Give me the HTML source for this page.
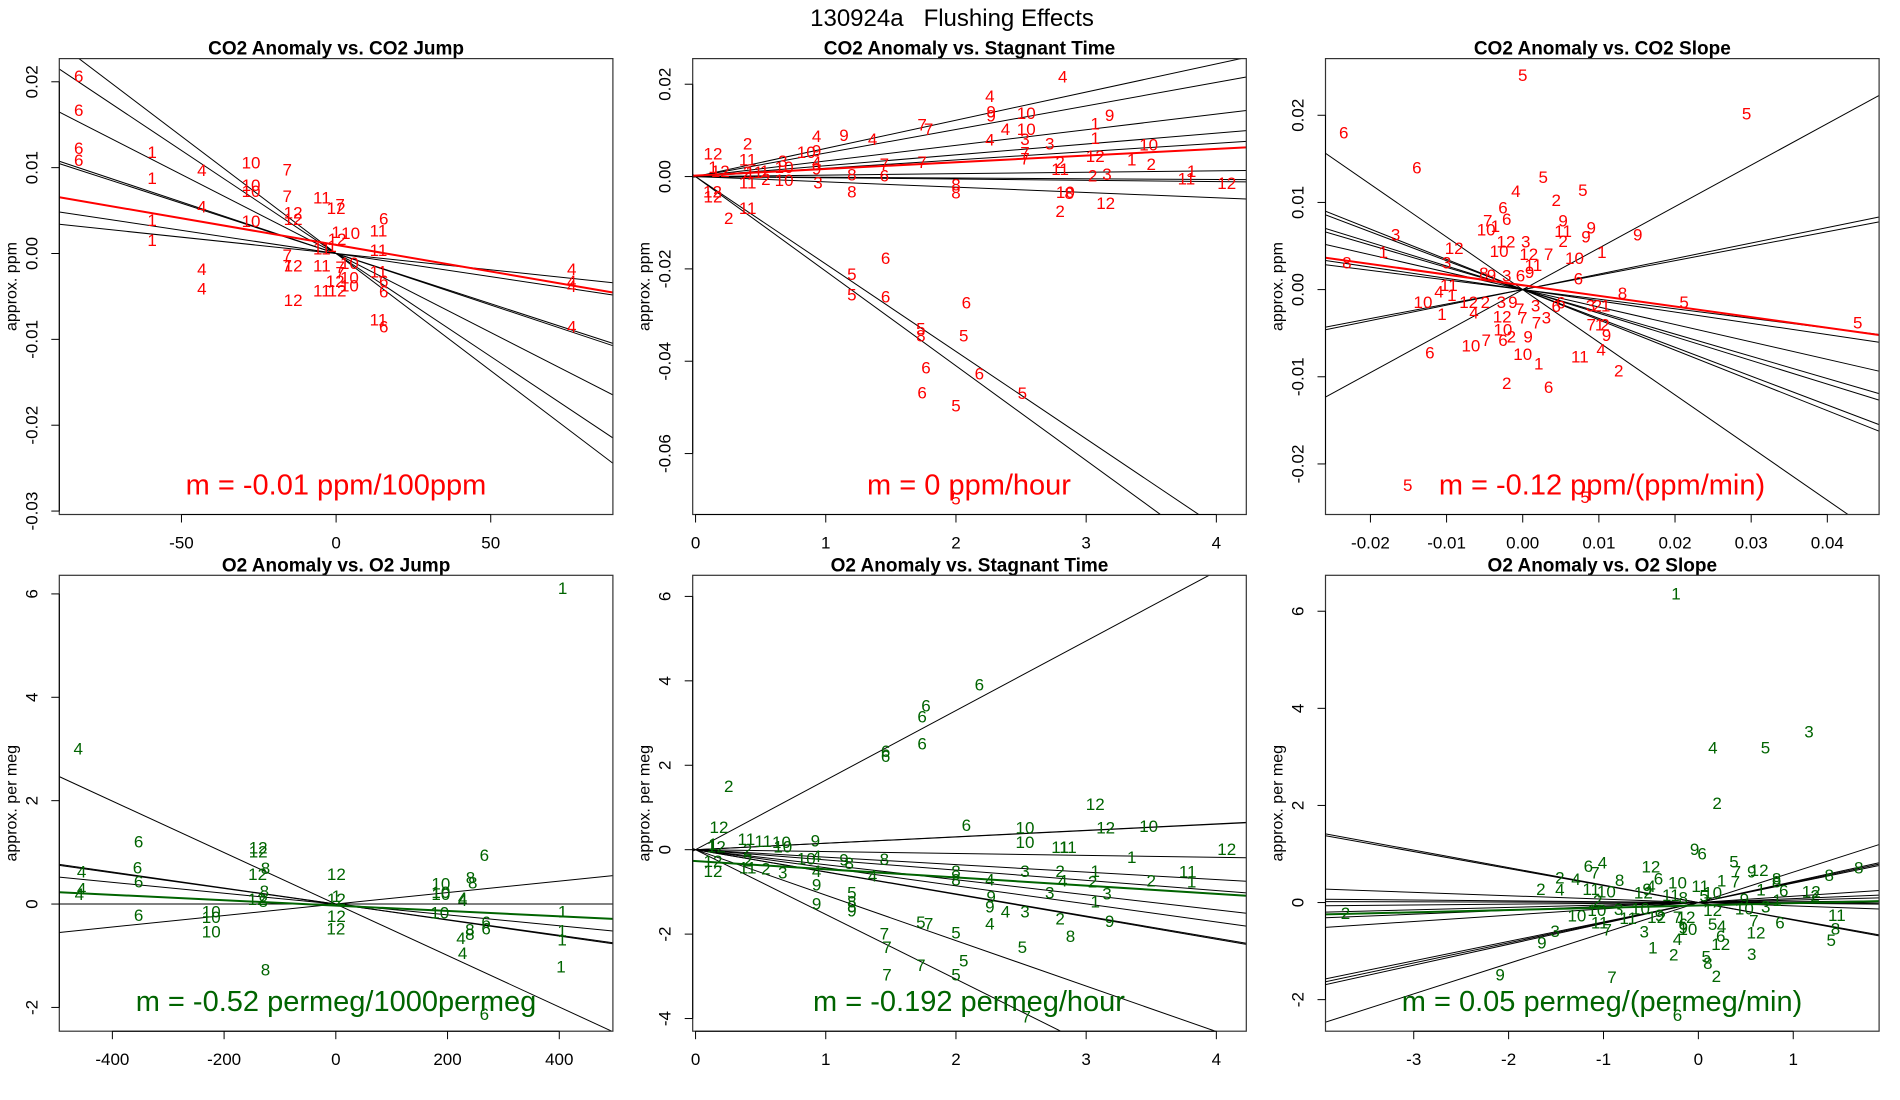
<!DOCTYPE html>
<html><head><meta charset="utf-8">
<style>
html,body{margin:0;padding:0;background:#fff;}
svg{display:block;font-family:"Liberation Sans",Arial,sans-serif;}
</style></head>
<body>
<svg id="chart" width="1900" height="1100" viewBox="0 0 1900 1100" xmlns="http://www.w3.org/2000/svg">
<text x="952" y="26" text-anchor="middle" font-size="24" fill="#000">130924a&#160;&#160;&#160;Flushing Effects</text>
</svg>
<script>
// ---- Panel 1: CO2 anomaly vs CO2 jump ----
const p1X=[-83.2,-83.2,-83.2,-83.2,-59.5,-59.5,-59.5,-59.5,-43.4,-43.4,-43.4,-43.4,-27.5,-27.5,-27.5,-27.5,-15.8,-15.8,-15.8,-15.8,-13.9,-13.9,-13.9,-13.9,-4.6,-4.6,-4.6,-4.6,1.3,0,0,0.3,4.7,-1.3,1.3,4.3,1.3,-0.3,4.3,0.3,4.3,13.7,15.4,13.7,13.7,15.4,15.4,13.7,15.4,76.2,76.2,76.2,76.2];
const p1Y=[0.0207,0.0167,0.0123,0.0109,0.0118,0.0088,0.0039,0.0016,0.0097,0.0055,-0.0018,-0.0041,0.0106,0.0080,0.0073,0.0038,0.0098,0.0067,-0.0002,-0.0014,0.0048,0.0040,-0.0014,-0.0054,0.0065,0.0006,-0.0014,-0.0043,0.0057,0.0053,0.0025,0.0017,0.0024,0.0009,-0.0016,-0.0011,-0.0022,-0.0032,-0.0028,-0.0043,-0.0037,0.0027,0.0041,0.0004,-0.0021,-0.0032,-0.0044,-0.0077,-0.0085,-0.0018,-0.0032,-0.0038,-0.0085];
const p1Lab=["6","6","6","6","1","1","1","1","4","4","4","4","10","10","10","10","7","7","7","7","12","12","12","12","11","11","11","11","7","12","1","12","10","1","7","10","7","12","10","12","10","11","6","11","11","6","6","11","6","4","4","4","4"];
const p1Slopes=[-0.000038,-0.000054,-0.000117,-0.00012,-0.000184,-0.00024,-0.000273];
const p1Fit=[-0.000062,0.0010];
// ---- Panel 2: CO2 anomaly vs stagnant time ----
const p2X=[0.134,0.134,0.19,0.13,0.134,0.255,0.40,0.40,0.40,0.40,0.40,0.53,0.54,0.45,0.67,0.68,0.68,0.85,0.93,0.93,0.93,0.93,0.94,1.14,1.36,1.20,1.20,1.45,1.45,1.74,1.79,1.74,2.0,2.0,2.26,2.27,2.27,2.38,2.26,2.54,2.54,2.53,2.53,2.53,2.72,2.82,2.80,2.80,2.80,2.84,2.87,3.07,3.18,3.07,3.07,3.05,3.16,3.15,3.35,3.48,3.50,3.81,3.77,4.08,1.20,1.20,1.46,1.46,1.73,1.73,2.08,2.06,1.77,2.18,1.74,2.00,2.51,2.00];
const p2Y=[0.0050,0.0021,0.0012,-0.0032,-0.0043,-0.0090,0.0072,0.0037,-0.0013,-0.0068,0.0010,0.0012,-0.0005,0.0010,0.0034,0.0021,-0.0007,0.0053,0.0056,0.0088,0.0031,0.0017,-0.0013,0.0090,0.0081,0.0004,-0.0032,0.0027,0.0002,0.0113,0.0103,0.0031,-0.0017,-0.0034,0.0175,0.0141,0.0132,0.0103,0.0080,0.0138,0.0103,0.0081,0.0052,0.0039,0.0072,0.0217,0.0031,0.0016,-0.0075,-0.0033,-0.0036,0.0115,0.0133,0.0084,0.0044,0.0002,0.0005,-0.0057,0.0037,0.0069,0.0027,0.0012,-0.0004,-0.0014,-0.0211,-0.0256,-0.0176,-0.0260,-0.0329,-0.0344,-0.0273,-0.0344,-0.0414,-0.0427,-0.0468,-0.0496,-0.0469,-0.0697];
const p2Lab=["12","1","12","12","12","2","2","11","11","11","2","1","2","11","3","10","10","10","9","4","4","9","3","9","4","8","8","7","6","7","7","7","8","8","4","9","9","4","4","10","10","3","7","7","3","4","2","11","2","10","8","1","9","1","12","2","3","12","1","10","2","1","11","12","5","5","6","6","5","8","6","5","6","6","6","5","5","5"];
const p2Slopes=[0.0061,0.0051,0.00338,0.00235,0.0018,0.00031,-0.00016,-0.00027,-0.00115,-0.0205,-0.01894];
const p2Fit=[0.00145,0.0002];
// ---- Panel 3: CO2 anomaly vs CO2 slope ----
const p3X=[0,-0.0235,0.0294,-0.0139,0.0027,-0.0009,0.0079,0.0044,-0.0026,-0.0021,-0.0046,-0.0048,-0.0036,0.0053,0.009,0.0053,0.0083,0.0053,0.0151,-0.0167,-0.0183,-0.009,-0.01,-0.0231,-0.0022,-0.0031,0.0004,0.0034,0.0068,0.0104,0.0008,0.0014,-0.0051,-0.0041,-0.0021,-0.0003,0.0009,0.0073,0.0131,0.0212,0.044,-0.011,-0.0097,-0.0131,-0.0093,-0.0106,-0.0071,-0.0049,-0.0028,-0.0013,-0.0004,-0.0064,-0.0027,0,0.0018,0.0017,0.0031,0.0044,0.005,0.0089,0.0098,0.0109,0.009,0.0101,0.0108,0.011,-0.0026,-0.0026,-0.0015,-0.0068,-0.0048,0.0007,-0.0122,0,0.0021,0.0075,0.0103,0.0126,-0.0021,0.0034,-0.0151,0.0082];
const p3Y=[0.0246,0.0180,0.0202,0.0140,0.0129,0.0113,0.0114,0.0103,0.0094,0.0081,0.0079,0.0069,0.0073,0.0079,0.0071,0.0067,0.0061,0.0056,0.0063,0.0063,0.0043,0.0048,0.0031,0.0031,0.0055,0.0044,0.0055,0.0041,0.0036,0.0043,0.0041,0.0028,0.0019,0.0017,0.0016,0.0016,0.0020,0.0013,-0.0004,-0.0014,-0.0038,-0.0002,0.0005,-0.0014,-0.0006,-0.0028,-0.0014,-0.0014,-0.0014,-0.0014,-0.0022,-0.0026,-0.0031,-0.0032,-0.0038,-0.0018,-0.0032,-0.0019,-0.0015,-0.0018,-0.0018,-0.0018,-0.0040,-0.0040,-0.0040,-0.0052,-0.0046,-0.0058,-0.0054,-0.0064,-0.0058,-0.0054,-0.0072,-0.0074,-0.0085,-0.0077,-0.0069,-0.0093,-0.0107,-0.0112,-0.0224,-0.0238];
const p3Lab=["5","6","5","6","5","4","5","2","6","6","7","10","1","9","9","11","9","2","9","3","1","12","3","8","12","10","3","7","10","1","12","11","8","9","3","6","9","6","8","5","5","4","11","10","1","1","12","2","3","9","7","4","12","7","7","3","3","6","6","3","2","1","7","1","2","9","10","6","2","10","7","9","6","10","1","11","4","2","2","6","5","5"];
const p3Slopes=[-0.604,-0.347,-0.331,-0.271,-0.255,-0.20,-0.129,-0.11,0.476,0.178,0.166];
const p3Fit=[-0.122,0.0005];
// ---- Panel 4: O2 anomaly vs O2 jump ----
const p4X=[406,-461,-353,-355,-353,-353,-455,-455,-459,-139,-139,-140,-126,-128,-141,-130,-223,-223,-223,1,1,1,1,0,-126,188,188,188,227,227,186,241,245,266,269,269,240,240,224,227,406,405,405,403,266];
const p4Y=[6.11,3.01,1.21,0.71,0.44,-0.21,0.63,0.30,0.19,1.09,1.02,0.58,0.70,0.25,0.10,0.06,-0.14,-0.25,-0.53,0.58,0.16,0.10,-0.23,-0.47,-1.27,0.40,0.23,0.19,0.12,0.08,-0.16,0.51,0.42,0.95,-0.35,-0.47,-0.49,-0.58,-0.66,-0.95,-0.14,-0.51,-0.69,-1.21,-2.13];
const p4Lab=["1","4","6","6","6","6","4","4","4","12","12","12","8","8","12","8","10","10","10","12","1","12","12","12","8","10","10","10","4","4","10","8","8","6","6","6","8","8","4","4","1","1","1","1","6"];
const p4Slopes=[-0.00498,-0.00151,-0.00155,-0.00105,0,0.00111];
const p4Fit=[-0.00052,-0.03];
// ---- Panel 5: O2 anomaly vs stagnant time ----
const p5X=[2.18,1.77,1.74,1.46,1.46,1.74,0.255,0.18,0.134,0.16,0.134,0.134,0.39,0.52,0.40,0.40,0.40,0.54,0.67,0.66,0.67,0.92,0.85,0.93,0.93,1.14,1.18,0.93,0.93,1.2,1.2,1.2,1.2,1.36,1.45,2.0,2.0,2.08,1.45,1.47,1.73,1.47,1.73,1.79,2.0,2.06,2.0,2.26,2.27,2.26,2.38,2.26,2.53,2.53,2.53,2.53,2.51,2.54,2.80,2.86,2.80,2.82,2.72,2.80,2.88,3.07,3.15,3.07,3.05,3.07,3.16,3.18,3.48,3.35,3.50,3.78,3.81,4.08];
const p5Y=[3.91,3.42,3.15,2.34,2.22,2.51,1.51,0.54,0.14,0.07,-0.27,-0.50,0.25,0.20,0,-0.26,-0.42,-0.44,-0.54,0.18,0.07,0.22,-0.21,-0.15,-0.50,-0.23,-0.32,-0.83,-1.27,-1.02,-1.23,-1.33,-1.44,-0.61,-0.22,-0.50,-0.71,0.58,-1.98,-2.31,-2.73,-2.96,-1.71,-1.75,-1.96,-2.63,-2.96,-0.71,-1.11,-1.35,-1.46,-1.75,0.53,0.18,-0.50,-1.46,-2.31,-3.95,0.06,0.06,-0.50,-0.73,-1.02,-1.63,-2.04,1.08,0.52,-0.50,-0.75,-1.23,-1.04,-1.69,0.56,-0.17,-0.73,-0.52,-0.75,0.02];
const p5Lab=["6","6","6","6","6","6","2","12","1","12","12","12","11","11","2","2","11","2","3","10","10","9","10","4","4","9","8","9","9","5","8","8","9","4","8","8","8","6","7","7","7","7","5","7","5","5","5","4","9","9","4","4","10","10","3","3","5","7","11","11","2","4","3","2","8","12","12","1","2","1","3","9","10","1","2","11","1","12"];
const p5Slopes=[1.648,0.151,0.153,-0.045,-0.177,-0.242,-0.356,-0.428,-0.524,-0.530,-1.077,-1.533];
const p5Fit=[-0.194,-0.27];
// ---- Panel 6: O2 anomaly vs O2 slope ----
const p6X=[-0.236,1.166,0.153,0.707,0.197,-0.04,0.04,0.376,0.40,0.563,0.64,0.825,0.825,1.38,1.69,-1.16,-1.09,-1.01,-1.46,-1.29,-0.83,-0.50,-0.42,-0.50,-0.54,-0.58,-1.66,-1.46,-1.13,-0.97,-1.06,-0.22,0.02,0.245,0.39,0.66,0.90,0.83,1.19,1.23,0.15,0.06,-0.29,-0.16,0.485,0.71,0.485,-3.72,-1.28,-1.07,-0.84,-0.61,-0.74,-1.04,-0.96,-0.41,-0.44,-0.22,-0.13,-0.16,-0.16,-0.11,0.15,0.15,0.245,0.236,0.236,0.585,0.86,0.607,1.46,1.445,1.40,-1.51,-1.65,-0.57,-0.22,-0.48,-0.26,0.083,0.10,0.563,0.19,-2.09,-0.91,-0.22];
const p6Y=[6.37,3.52,3.19,3.19,2.05,1.10,1.01,0.85,0.64,0.64,0.67,0.50,0.43,0.57,0.72,0.75,0.62,0.82,0.52,0.48,0.46,0.74,0.50,0.34,0.28,0.21,0.28,0.27,0.28,0.23,0.04,0.41,0.34,0.45,0.43,0.27,0.25,0.05,0.23,0.14,0.21,0.14,0.16,0.10,0.07,-0.08,-0.12,-0.22,-0.27,-0.15,-0.13,-0.12,-0.32,-0.41,-0.56,-0.26,-0.30,-0.30,-0.30,-0.51,-0.44,-0.55,-0.15,-0.44,-0.48,-0.69,-0.85,-0.37,-0.41,-0.62,-0.26,-0.53,-0.77,-0.59,-0.82,-0.60,-0.75,-0.93,-1.07,-1.11,-1.25,-1.06,-1.51,-1.48,-1.53,-2.32];
const p6Lab=["1","3","4","5","2","9","6","5","7","9","12","8","8","8","8","6","7","4","2","4","8","12","6","4","9","12","2","4","11","10","2","10","11","1","7","1","6","1","12","2","10","5","11","8","9","3","10","2","10","10","3","10","11","11","7","9","12","7","12","9","6","10","12","5","4","6","12","7","6","12","11","8","5","3","9","3","4","1","2","5","8","3","2","9","7","6"];
const p6Slopes=[-0.36,-0.35,-0.07,-0.017,-0.005,0.13,0.08,0.017,0.05,0.40,0.415,0.43,0.627];
const p6Fit=[0.047,-0.06];

const NS="http://www.w3.org/2000/svg";
const svg=document.getElementById("chart");
const RED="#ff0000", GRN="#006400";
const panels=[
 {id:"co2-jump",title:"CO2 Anomaly vs. CO2 Jump",L:59.3,T:58.6,xd:[-89.5,89.5],yd:[-0.0304,0.0227],xt:[-50,0,50],yt:[0.02,0.01,0,-0.01,-0.02,-0.03],ylab:"approx. ppm",col:RED,X:p1X,Y:p1Y,Lab:p1Lab,S:p1Slopes,F:p1Fit,m:"m = -0.01 ppm/100ppm",mx:336,xfmt:v=>String(v),yfmt:v=>v.toFixed(2)},
 {id:"co2-stagnant",title:"CO2 Anomaly vs. Stagnant Time",L:692.7,T:58.6,xd:[-0.022,4.23],yd:[-0.0732,0.02555],xt:[0,1,2,3,4],yt:[0.02,0,-0.02,-0.04,-0.06],ylab:"approx. ppm",col:RED,X:p2X,Y:p2Y,Lab:p2Lab,S:p2Slopes,F:p2Fit,m:"m = 0 ppm/hour",mx:969,xfmt:v=>String(v),yfmt:v=>v.toFixed(2)},
 {id:"co2-slope",title:"CO2 Anomaly vs. CO2 Slope",L:1325.5,T:58.6,xd:[-0.0259,0.0468],yd:[-0.0258,0.0265],xt:[-0.02,-0.01,0,0.01,0.02,0.03,0.04],yt:[0.02,0.01,0,-0.01,-0.02],ylab:"approx. ppm",col:RED,X:p3X,Y:p3Y,Lab:p3Lab,S:p3Slopes,F:p3Fit,m:"m = -0.12 ppm/(ppm/min)",mx:1602,xfmt:v=>v.toFixed(2),yfmt:v=>v.toFixed(2)},
 {id:"o2-jump",title:"O2 Anomaly vs. O2 Jump",L:59.3,T:575.3,xd:[-495,496],yd:[-2.46,6.36],xt:[-400,-200,0,200,400],yt:[-2,0,2,4,6],ylab:"approx. per meg",col:GRN,X:p4X,Y:p4Y,Lab:p4Lab,S:p4Slopes,F:p4Fit,m:"m = -0.52 permeg/1000permeg",mx:336,xfmt:v=>String(v),yfmt:v=>String(v)},
 {id:"o2-stagnant",title:"O2 Anomaly vs. Stagnant Time",L:692.7,T:575.3,xd:[-0.022,4.23],yd:[-4.3,6.5],xt:[0,1,2,3,4],yt:[-4,-2,0,2,4,6],ylab:"approx. per meg",col:GRN,X:p5X,Y:p5Y,Lab:p5Lab,S:p5Slopes,F:p5Fit,m:"m = -0.192 permeg/hour",mx:969,xfmt:v=>String(v),yfmt:v=>String(v)},
 {id:"o2-slope",title:"O2 Anomaly vs. O2 Slope",L:1325.5,T:575.3,xd:[-3.93,1.905],yd:[-2.65,6.74],xt:[-3,-2,-1,0,1],yt:[-2,0,2,4,6],ylab:"approx. per meg",col:GRN,X:p6X,Y:p6Y,Lab:p6Lab,S:p6Slopes,F:p6Fit,m:"m = 0.05 permeg/(permeg/min)",mx:1602,xfmt:v=>String(v),yfmt:v=>String(v)}
];
const W=553.6,H=455.9;
function mk(tag,attrs,parent){const e=document.createElementNS(NS,tag);for(const k in attrs)e.setAttribute(k,attrs[k]);(parent||svg).appendChild(e);return e;}
panels.forEach((p,pi)=>{
 const g=mk("g",{});
 
 
 const sx=v=>p.L+(v-p.xd[0])/(p.xd[1]-p.xd[0])*W;
 const sy=v=>p.T+H-(v-p.yd[0])/(p.yd[1]-p.yd[0])*H;
 const cp=mk("clipPath",{id:"clip"+pi},g);
 mk("rect",{x:p.L,y:p.T,width:W,height:H},cp);
 const t=mk("text",{x:p.L+W/2,y:p.T-4,"text-anchor":"middle","font-size":"19","font-weight":"bold",fill:"#000"},g);
 t.textContent=p.title;
 
 
 const lg=mk("g",{"clip-path":"url(#clip"+pi+")"},g);
 p.S.forEach(s=>{
  const l=mk("line",{x1:sx(p.xd[0]),y1:sy(s*p.xd[0]),x2:sx(p.xd[1]),y2:sy(s*p.xd[1]),stroke:"#000","stroke-width":"1"},lg);
  
  
 });
 const fl=mk("line",{x1:sx(p.xd[0]),y1:sy(p.F[0]*p.xd[0]+p.F[1]),x2:sx(p.xd[1]),y2:sy(p.F[0]*p.xd[1]+p.F[1]),stroke:p.col,"stroke-width":"2"},lg);
 
 
 p.X.forEach((xv,i)=>{
  const tx=mk("text",{x:sx(xv),y:sy(p.Y[i])+6,"text-anchor":"middle","font-size":"17",fill:p.col},g);
  tx.textContent=p.Lab[i];
  
  
 });
 const fr=mk("rect",{x:p.L,y:p.T,width:W,height:H,fill:"none",stroke:"#333","stroke-width":"1.2"},g);
 
 
 const xa=mk("g",{},g);
 
 
 const B=p.T+H;
 mk("line",{x1:sx(p.xt[0]),y1:B,x2:sx(p.xt[p.xt.length-1]),y2:B,stroke:"#000"},xa);
 p.xt.forEach(v=>{
  mk("line",{x1:sx(v),y1:B,x2:sx(v),y2:B+8,stroke:"#000"},xa);
  const tl=mk("text",{x:sx(v),y:B+34,"text-anchor":"middle","font-size":"17",fill:"#000"},xa);
  tl.textContent=p.xfmt(v);
  
  
 });
 const ya=mk("g",{},g);
 
 
 mk("line",{x1:p.L,y1:sy(p.yt[0]),x2:p.L,y2:sy(p.yt[p.yt.length-1]),stroke:"#000"},ya);
 p.yt.forEach(v=>{
  mk("line",{x1:p.L-8,y1:sy(v),x2:p.L,y2:sy(v),stroke:"#000"},ya);
  const yl=mk("text",{x:p.L-22,y:sy(v),"text-anchor":"middle","font-size":"17",fill:"#000",transform:"rotate(-90 "+(p.L-22)+" "+sy(v)+")"},ya);
  yl.textContent=p.yfmt(v);
  
  
 });
 const yt=mk("text",{x:p.L-43,y:p.T+H/2,"text-anchor":"middle","font-size":"16",fill:"#000",transform:"rotate(-90 "+(p.L-43)+" "+(p.T+H/2)+")"},g);
 yt.textContent=p.ylab;
 
 
 const mt=mk("text",{x:p.mx,y:p.T+H-20,"text-anchor":"middle","font-size":"29",fill:p.col},g);
 mt.textContent=p.m;
 
 
});
</script>
</body></html>
